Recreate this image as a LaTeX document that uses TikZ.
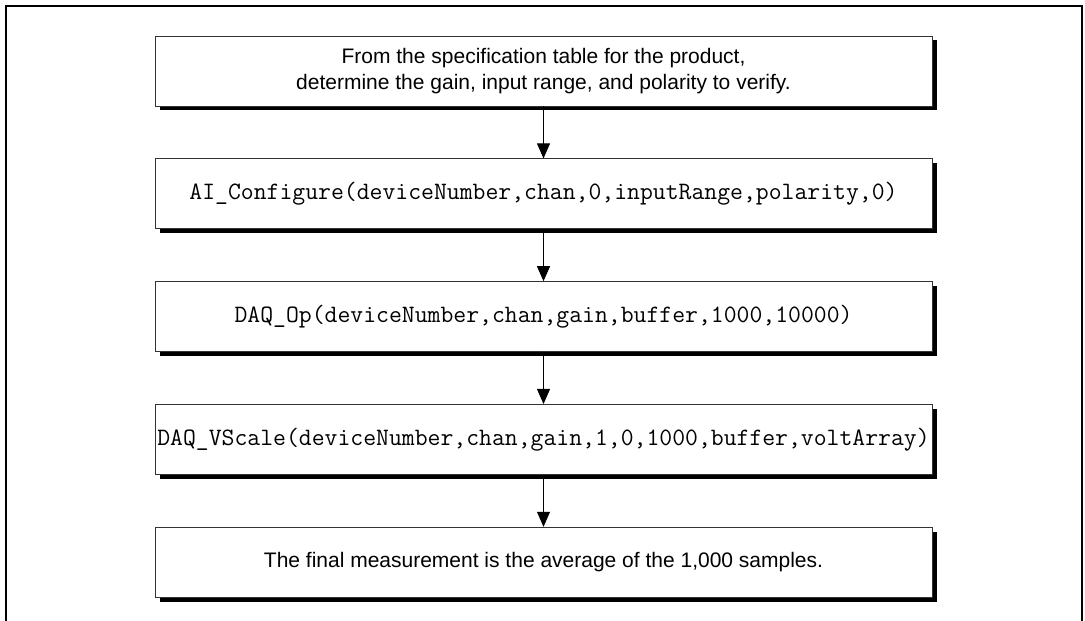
\documentclass[tikz,border=0pt]{standalone}
\usepackage{fontspec}
\setmainfont{Liberation Sans}
\usetikzlibrary{positioning}
\usetikzlibrary{arrows.meta}
\usetikzlibrary{shadows}

\begin{document}
\begin{tikzpicture}[x=1pt,y=1pt,node distance=52pt,
  every node/.style={draw=black!80,line width=0.8pt,fill=white,minimum width=777pt,minimum height=70pt,inner sep=0pt,align=center,
    drop shadow={shadow xshift=4.5pt,shadow yshift=-4.5pt,opacity=1,fill=black}},
  codebox/.style={font=\fontsize{25}{28}\selectfont\ttfamily},
  textbox/.style={font=\fontsize{21}{26.5}\selectfont}]
  \useasboundingbox (0,0) rectangle (1085,621);
  \draw[line width=2pt] (6,0) -- (6,615) -- (1082,615) -- (1082,0);
  \node[textbox] (1) at (543.5,550) {From the specification table for the product,\\determine the gain, input range, and polarity to verify.};
  \node[codebox,below =of 1] (2) {AI\_Configure(deviceNumber,chan,0,inputRange,polarity,0)};
  \node[codebox,below =of 2] (3) {DAQ\_Op(deviceNumber,chan,gain,buffer,1000,10000)};
  \node[codebox,below =of 3] (4) {DAQ\_VScale(deviceNumber,chan,gain,1,0,1000,buffer,voltArray)};
  \node[textbox,below =of 4] (5) {The final measurement is the average of the 1,000 samples.};
  \draw[thick,-{Triangle[length=15pt,width=13pt]}](1)--(2);
  \draw[thick,-{Triangle[length=15pt,width=13pt]}](2)--(3);
  \draw[thick,-{Triangle[length=15pt,width=13pt]}](3)--(4);
  \draw[thick,-{Triangle[length=15pt,width=13pt]}](4)--(5);
\end{tikzpicture}
\end{document}
